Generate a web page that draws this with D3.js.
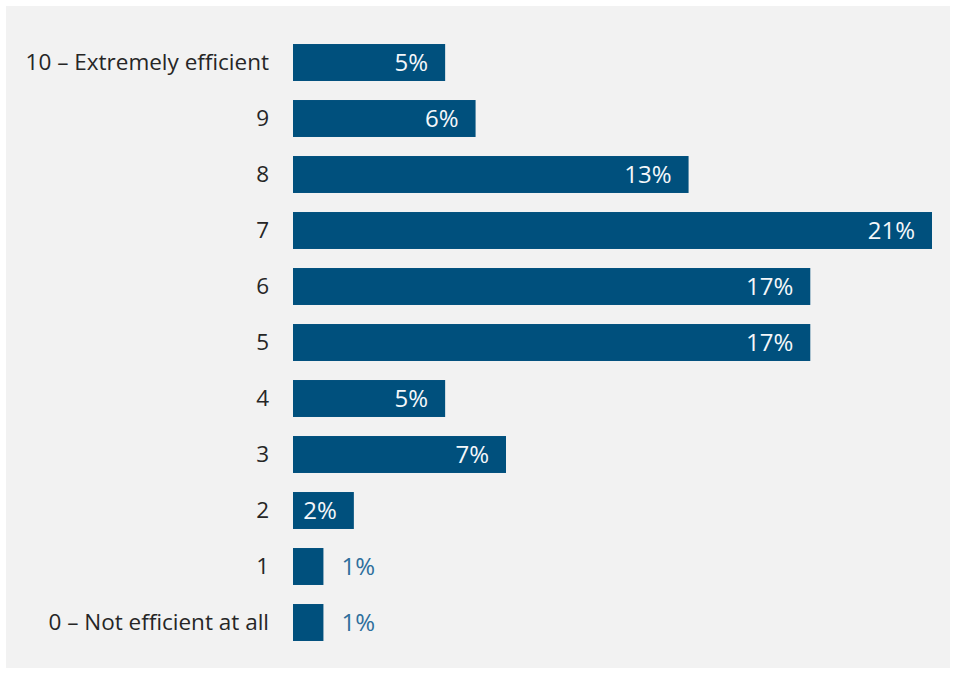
<!DOCTYPE html>
<html>
<head>
<meta charset="utf-8">
<script src="https://cdn.jsdelivr.net/npm/d3@7"></script>
<style>
  html, body { margin: 0; padding: 0; background: #ffffff; }
  svg { display: block; }
</style>
</head>
<body>
<svg id="chart" width="956" height="674"></svg>
<script>
// Rating scale from top (10) to bottom (0)
const categories = [
  "10 \u2013 Extremely efficient", "9", "8", "7", "6", "5", "4", "3", "2", "1",
  "0 \u2013 Not efficient at all"
];
// Share of respondents per rating, in percent
const values = [5, 6, 13, 21, 17, 17, 5, 7, 2, 1, 1];
const valueLabels = ["5%", "6%", "13%", "21%", "17%", "17%", "5%", "7%", "2%", "1%", "1%"];

const svg = d3.select("#chart");
const fontFamily = "'Open Sans', 'Noto Sans', sans-serif";

// Panel
svg.append("rect")
  .attr("x", 6).attr("y", 6)
  .attr("width", 944).attr("height", 662)
  .attr("fill", "#f2f2f2");

const y = d3.scaleBand()
  .domain(categories)
  .range([34.5, 650.5])
  .paddingInner(0.34)
  .paddingOuter(0.17);

const x = d3.scaleLinear()
  .domain([0, 21])
  .range([293, 932]);

// Category axis (labels only)
const yAxis = svg.append("g")
  .attr("transform", `translate(${x(0)},0)`)
  .call(d3.axisLeft(y).tickSize(0).tickPadding(24));
yAxis.select(".domain").remove();
yAxis.selectAll("text")
  .attr("font-family", fontFamily)
  .attr("font-size", 22.5)
  .attr("fill", "#262626");

const rows = svg.append("g").selectAll("g")
  .data(categories.map((c, i) => ({ c, v: values[i], label: valueLabels[i] })))
  .join("g");

rows.append("rect")
  .attr("x", x(0))
  .attr("y", d => y(d.c))
  .attr("width", d => x(d.v) - x(0))
  .attr("height", y.bandwidth())
  .attr("fill", "#00507d");

rows.append("text")
  .attr("x", d => d.v < 2 ? x(d.v) + 18 : x(d.v) - 17)
  .attr("y", d => y(d.c) + y.bandwidth() / 2)
  .attr("dy", "0.36em")
  .attr("text-anchor", d => d.v < 2 ? "start" : "end")
  .attr("font-family", fontFamily)
  .attr("font-size", 24)
  .attr("fill", d => d.v < 2 ? "#2e6f9c" : "#f4f7fa")
  .text(d => d.label);
</script>
</body>
</html>
